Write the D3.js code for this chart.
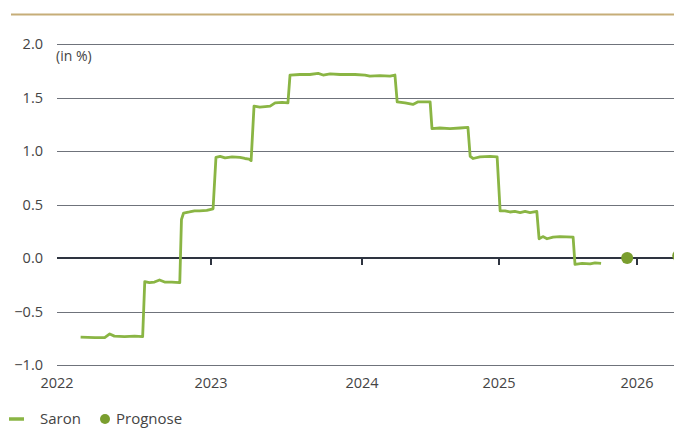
<!DOCTYPE html>
<html>
<head>
<meta charset="utf-8">
<script src="https://cdn.jsdelivr.net/npm/d3@7"></script>
<style>
  html, body { margin: 0; padding: 0; background: #fff; }
  body { width: 674px; height: 429px; overflow: hidden; }
  svg { display: block; font-family: "Open Sans", Lato, sans-serif; }
  .grid line { stroke: #6f737b; stroke-width: 1; shape-rendering: crispEdges; }
  .tick-label { fill: #444; font-size: 14.5px; }
  .legend-text { fill: #444; font-size: 15px; }
</style>
</head>
<body>
<div id="chart"></div>
<script>
// Saron, daily-ish readings (date, value in %)
const saronDates = [
  "2022-02-26","2022-04-01","2022-04-24","2022-05-06","2022-05-17","2022-06-10","2022-07-04","2022-07-23",
  "2022-07-28","2022-08-08","2022-08-20","2022-09-01","2022-09-13","2022-09-30","2022-10-19",
  "2022-10-23","2022-10-28","2022-11-11","2022-11-23","2022-12-05","2022-12-22","2023-01-06",
  "2023-01-13","2023-01-23","2023-02-04","2023-02-21","2023-03-12","2023-03-24","2023-04-03","2023-04-08",
  "2023-04-15","2023-04-29","2023-05-12","2023-05-24","2023-06-05","2023-06-22","2023-07-06",
  "2023-07-11","2023-08-04","2023-08-28","2023-09-17","2023-09-29","2023-10-16","2023-11-09","2023-12-15",
  "2024-01-09","2024-01-22","2024-02-18","2024-03-16","2024-03-29",
  "2024-04-04","2024-04-25","2024-05-16","2024-05-30","2024-06-17","2024-07-01",
  "2024-07-06","2024-07-27","2024-08-23","2024-09-19","2024-10-10",
  "2024-10-16","2024-10-24","2024-11-11","2024-12-08","2024-12-27",
  "2025-01-04","2025-01-17","2025-01-30","2025-02-12","2025-02-26","2025-03-11","2025-03-24","2025-04-11",
  "2025-04-17","2025-04-27","2025-05-08","2025-05-24","2025-06-11","2025-07-16",
  "2025-07-21","2025-08-09","2025-08-30","2025-09-12","2025-09-28"
];
const saronValues = [
  -0.74,-0.745,-0.745,-0.71,-0.73,-0.735,-0.73,-0.735,
  -0.22,-0.23,-0.225,-0.205,-0.225,-0.225,-0.23,
  0.36,0.42,0.43,0.44,0.44,0.445,0.46,
  0.94,0.95,0.935,0.945,0.94,0.93,0.925,0.91,
  1.42,1.41,1.415,1.42,1.45,1.455,1.45,
  1.71,1.715,1.715,1.725,1.71,1.72,1.715,1.715,
  1.71,1.70,1.705,1.70,1.71,
  1.46,1.45,1.435,1.46,1.46,1.46,
  1.21,1.215,1.21,1.215,1.22,
  0.95,0.93,0.945,0.95,0.945,
  0.44,0.44,0.43,0.435,0.425,0.435,0.425,0.435,
  0.18,0.20,0.18,0.195,0.20,0.195,
  -0.06,-0.05,-0.055,-0.045,-0.05
];

// Prognose points
const forecastDates = ["2025-12-06", "2026-04-20"];
const forecastValues = [0.0, 0.02];

const yearTicks = ["2022", "2023", "2024", "2025", "2026"];
const yTicks = [-1.0, -0.5, 0.0, 0.5, 1.0, 1.5, 2.0];

const width = 674, height = 429;
const parse = d3.utcParse("%Y-%m-%d");

const svg = d3.select("#chart").append("svg")
  .attr("width", width).attr("height", height);

// header rule
svg.append("line")
  .attr("x1", 11).attr("x2", width)
  .attr("y1", 14.5).attr("y2", 14.5)
  .attr("stroke", "#c6ad78").attr("stroke-width", 2);

// x axis spacing in the original is not even between years
const x = d3.scaleUtc()
  .domain(["2022-01-01","2023-01-01","2024-01-01","2025-01-01","2026-01-01","2027-01-01"].map(parse))
  .range([57, 211, 362, 499, 637, 775]);

const y = d3.scaleLinear().domain([-1, 2]).range([365, 44]);

const grid = svg.append("g").attr("class", "grid");
grid.selectAll("line")
  .data(yTicks.filter(d => d !== 0))
  .join("line")
  .attr("x1", 57).attr("x2", width)
  .attr("y1", d => Math.round(y(d)) + 0.5)
  .attr("y2", d => Math.round(y(d)) + 0.5);

svg.append("g").selectAll("text")
  .data(yTicks)
  .join("text")
  .attr("class", "tick-label")
  .attr("x", 43)
  .attr("y", d => y(d) + 5)
  .attr("text-anchor", "end")
  .text(d => d3.format(".1f")(d).replace("-", "\u2212"));

svg.append("text")
  .attr("class", "tick-label")
  .attr("x", 56).attr("y", 61)
  .style("font-size", "14px")
  .text("(in %)");

// zero line with year ticks
const y0 = Math.round(y(0));
svg.append("line")
  .attr("x1", 57).attr("x2", width)
  .attr("y1", y0).attr("y2", y0)
  .attr("stroke", "#2e3440").attr("stroke-width", 2);

svg.append("g").selectAll("line")
  .data(yearTicks.slice(1))
  .join("line")
  .attr("x1", d => Math.round(x(parse(d + "-01-01"))))
  .attr("x2", d => Math.round(x(parse(d + "-01-01"))))
  .attr("y1", y0).attr("y2", y0 + 7)
  .attr("stroke", "#2e3440").attr("stroke-width", 2);

svg.append("g").selectAll("text")
  .data(yearTicks)
  .join("text")
  .attr("class", "tick-label")
  .attr("x", d => x(parse(d + "-01-01")))
  .attr("y", 388)
  .attr("text-anchor", "middle")
  .text(d => d);

// Saron line
const saron = saronDates.map((d, i) => ({ x: parse(d), y: saronValues[i] }));
const line = d3.line().x(d => x(d.x)).y(d => y(d.y)).curve(d3.curveLinear);

svg.append("path")
  .datum(saron)
  .attr("fill", "none")
  .attr("stroke", "#8ab544")
  .attr("stroke-width", 2.8)
  .attr("stroke-linejoin", "round")
  .attr("d", line);

// Prognose dots
svg.append("g").selectAll("circle")
  .data(forecastDates.map((d, i) => ({ x: parse(d), y: forecastValues[i] })))
  .join("circle")
  .attr("cx", d => x(d.x))
  .attr("cy", d => y(d.y))
  .attr("r", 6)
  .attr("fill", "#7a9e2e");

// legend
const legend = svg.append("g").attr("transform", "translate(0,419)");
legend.append("line")
  .attr("x1", 9).attr("x2", 24)
  .attr("stroke", "#8ab544").attr("stroke-width", 3.5);
legend.append("text").attr("class", "legend-text")
  .attr("x", 40).attr("y", 5).text("Saron");
legend.append("circle")
  .attr("cx", 105).attr("cy", 0).attr("r", 5)
  .attr("fill", "#7a9e2e");
legend.append("text").attr("class", "legend-text")
  .attr("x", 116).attr("y", 5).text("Prognose");
</script>
</body>
</html>
